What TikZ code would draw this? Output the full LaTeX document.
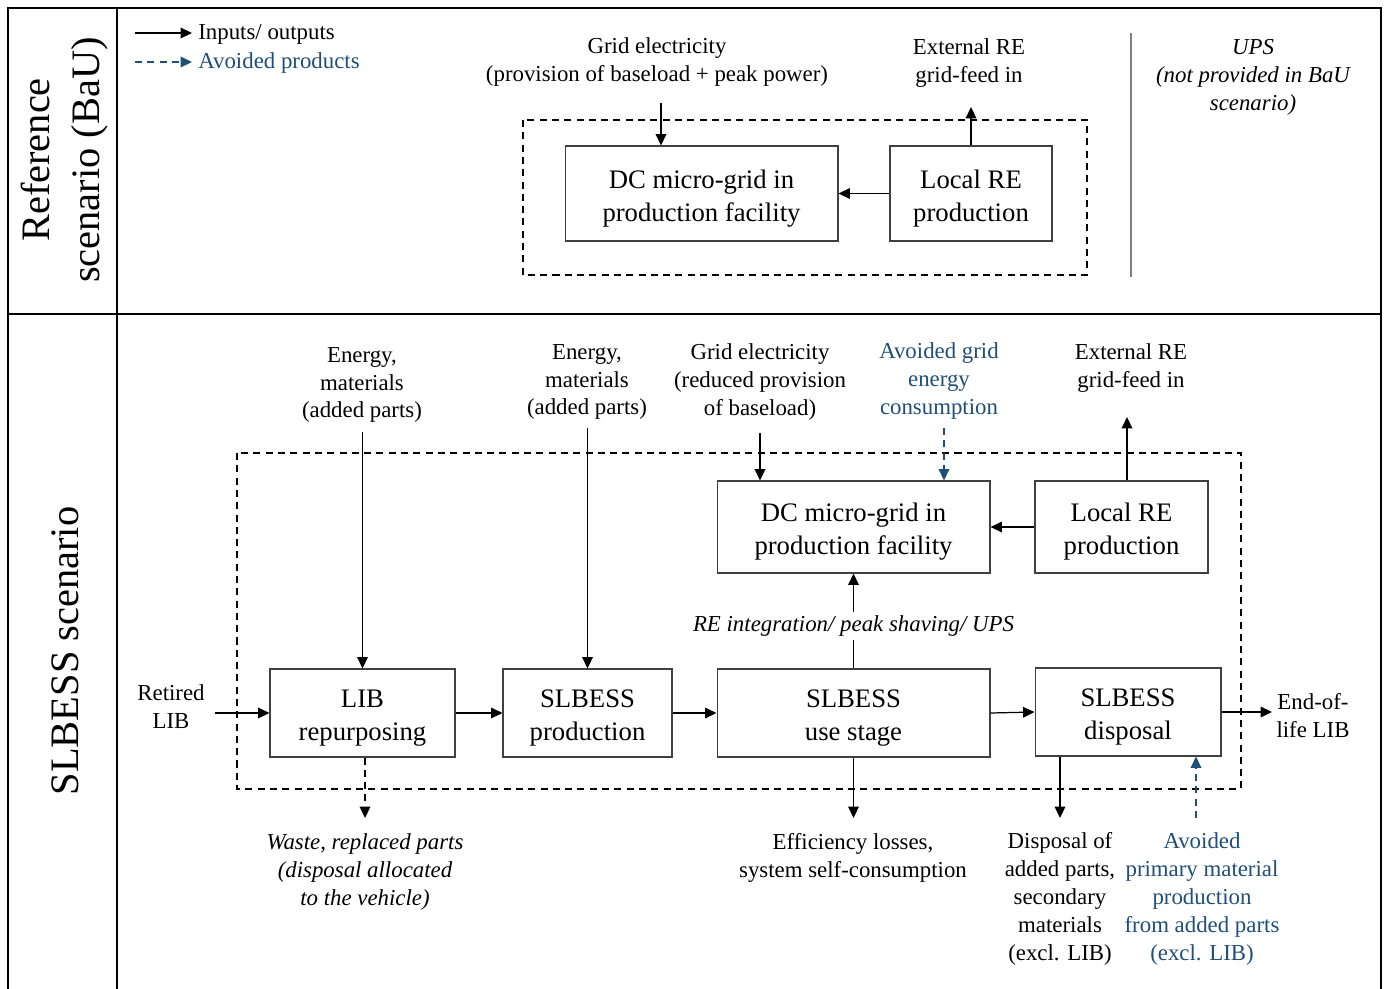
\documentclass[tikz,border=0pt]{standalone}
\usepackage{fontspec}
\setmainfont{Liberation Serif}
\usetikzlibrary{arrows.meta}
\definecolor{avoidblue}{RGB}{31,78,121}
\newcommand\lblfont{\fontsize{13}{15.9}\selectfont}
\newcommand\boxfont{\fontsize{15.2}{18.7}\selectfont}
\newcommand\sidefont{\fontsize{23}{28.4}\selectfont}
\tikzset{
  proc/.style={draw=black!75, line width=0.6pt, align=center, inner sep=0pt, text height=34.6pt, font=\boxfont},
  lbl/.style={align=center, inner sep=0pt, font=\lblfont},
  avlbl/.style={lbl, text=avoidblue},
  flow/.style={-{Triangle[length=6.5pt,width=6pt]}, line width=1pt},
  dflow/.style={flow, dash pattern=on 4pt off 3pt},
  avflow/.style={dflow, avoidblue},
  sysb/.style={line width=1pt, dash pattern=on 4pt off 3pt},
}

\begin{document}
\begin{tikzpicture}[x=0.02cm, y=-0.02cm]
    \useasboundingbox (0,0) rectangle (1387,988);

    % frame
    \draw[line width=1pt] (8,992) -- (8,8) -- (1381,8) -- (1381,992);
    \draw[line width=1pt] (117,8) -- (117,992);
    \draw[line width=1pt] (8,314) -- (1381,314);

    \node[rotate=90, align=center, inner sep=0pt, font=\sidefont] (refside) at (65,160) {Reference\\scenario (BaU)};
    \node[rotate=90, inner sep=0pt, font=\sidefont] (slside) at (65,651) {SLBESS scenario};

    % legend
    \coordinate (lgA) at (135,33);
    \coordinate (lgB) at (135,62);
    \coordinate (lgA2) at (192,33);
    \coordinate (lgB2) at (192,62);
    \node[lbl, anchor=west] (lgin) at (198,34) {Inputs/ outputs};
    \node[avlbl, anchor=west] (lgav) at (198,63) {Avoided products};
    \draw[flow] (lgA) -- (lgA2);
    \draw[avflow] (lgB) -- (lgB2);

    % reference scenario
    \draw[sysb] (523,120) rectangle (1087,275);
    \node[proc, minimum width=5.46cm, minimum height=1.9cm] (dcA) at (701.5,193.5) {DC micro-grid in\\production facility};
    \node[proc, minimum width=3.24cm, minimum height=1.9cm] (reA) at (971,193.5) {Local RE\\production};

    \node[lbl] (gridA) at (657,62) {Grid electricity\\(provision of baseload + peak power)};
    \node[lbl] (extA) at (969,63) {External RE\\grid-feed in};
    \node[lbl, font=\lblfont\itshape] (ups) at (1253,77) {UPS\\(not provided in BaU\\scenario)};
    \draw[gray, line width=0.7pt] (1131,33) -- (1131,277);

    \coordinate (gA) at (661,103);
    \coordinate (eA) at (971,107);
    \draw[flow] (gA) -- (gA |- dcA.north);
    \draw[flow] (reA.north) -- (eA);
    \draw[flow] (reA.west) -- (dcA.east);

    % SLBESS scenario
    \draw[sysb] (237,453) rectangle (1241,789);
    \node[proc, minimum width=3.7cm, minimum height=1.76cm] (lib) at (362.5,713) {LIB\\repurposing};
    \node[proc, minimum width=3.38cm, minimum height=1.76cm] (prod) at (587.5,713) {SLBESS\\production};
    \node[proc, minimum width=5.46cm, minimum height=1.76cm] (use) at (853.5,713) {SLBESS\\use stage};
    \node[proc, minimum width=3.72cm, minimum height=1.76cm] (disp) at (1128,712) {SLBESS\\disposal};
    \node[proc, minimum width=5.46cm, minimum height=1.84cm] (dcB) at (853.5,527) {DC micro-grid in\\production facility};
    \node[proc, minimum width=3.46cm, minimum height=1.84cm] (reB) at (1121.5,527) {Local RE\\production};

    \node[lbl] (enA) at (362,385) {Energy,\\materials\\(added parts)};
    \node[lbl] (enB) at (587,382) {Energy,\\materials\\(added parts)};
    \node[lbl] (gridB) at (760,382) {Grid electricity\\(reduced provision\\of baseload)};
    \node[avlbl] (avgrid) at (939,381) {Avoided grid\\energy\\consumption};
    \node[lbl] (extB) at (1131,368) {External RE\\grid-feed in};
    \node[lbl] (retired) at (171,707) {Retired\\LIB};
    \node[lbl] (eol) at (1313,716) {End-of-\\life LIB};
    \node[lbl, font=\lblfont\itshape] (waste) at (365,872) {Waste, replaced parts\\(disposal allocated\\to the vehicle)};
    \node[lbl] (losses) at (853,858) {Efficiency losses,\\system self-consumption};
    \node[lbl] (dispout) at (1060,899) {Disposal of\\added parts,\\secondary\\materials\\(excl. LIB)};
    \node[avlbl] (avprim) at (1202,899) {Avoided\\primary material\\production\\from added parts\\(excl. LIB)};

    \coordinate (inA) at (362.5,432);
    \coordinate (inB) at (587.5,428);
    \coordinate (gB) at (760,433);
    \coordinate (avG) at (944,428);
    \coordinate (eB) at (1127,417);
    \coordinate (retIn) at (215,713);
    \coordinate (eolOut) at (1272,712);
    \coordinate (wasteOut) at (365,818);
    \coordinate (lossOut) at (853.5,818);
    \coordinate (dispOut) at (1060,818);
    \coordinate (avP) at (1196,818);

    \draw[flow] (inA) -- (lib.north);
    \draw[flow] (inB) -- (prod.north);
    \draw[flow] (gB) -- (gB |- dcB.north);
    \draw[avflow] (avG) -- (avG |- dcB.north);
    \draw[flow] (eB |- reB.north) -- (eB);
    \draw[flow] (reB.west) -- (dcB.east);
    \draw[flow] (use.north) -- node[lbl, fill=white, inner sep=2pt, yshift=-3pt, font=\lblfont\itshape] (reint) {RE integration/ peak shaving/ UPS} (dcB.south);

    \draw[flow] (retIn) -- (lib.west);
    \draw[flow, line width=0.7pt] (lib.east) -- (prod.west);
    \draw[flow, line width=0.7pt] (prod.east) -- (use.west);
    \draw[flow, line width=0.7pt] (use.east) -- (disp.west);
    \draw[flow] (disp.east) -- (eolOut);

    \draw[dflow] (wasteOut |- lib.south) -- (wasteOut);
    \draw[flow] (use.south) -- (lossOut);
    \draw[flow] (dispOut |- disp.south) -- (dispOut);
    \draw[avflow] (avP) -- (avP |- disp.south);
\end{tikzpicture}
\end{document}
